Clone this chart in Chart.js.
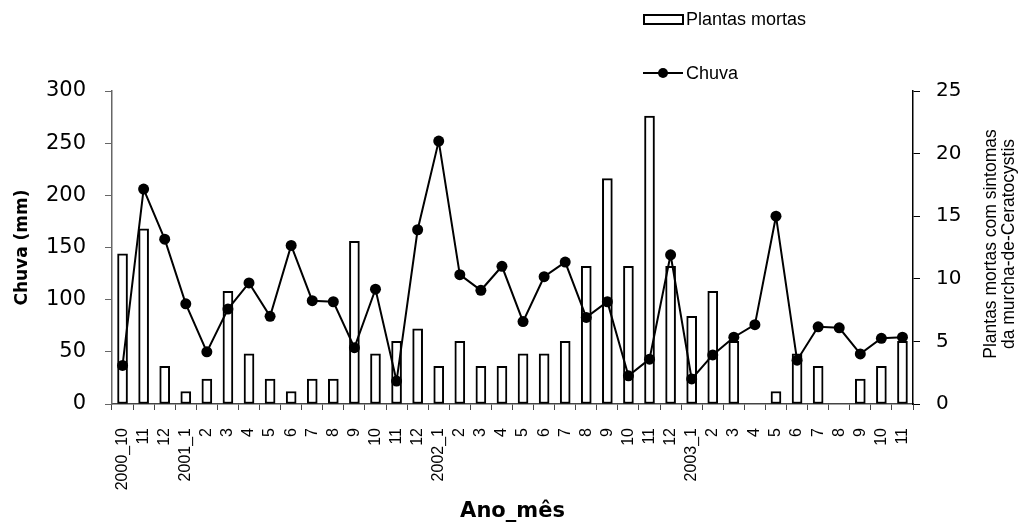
<!DOCTYPE html>
<html>
<head>
<meta charset="utf-8">
<script src="https://cdn.jsdelivr.net/npm/chart.js@4"></script>
<style>
  html, body { margin: 0; padding: 0; background: #fff; }
  #c { display: block; }
</style>
</head>
<body>
<canvas id="c" width="1023" height="527"></canvas>
<script>
const categories = ['2000_10','11','12','2001_1','2','3','4','5','6','7','8','9','10','11','12',
  '2002_1','2','3','4','5','6','7','8','9','10','11','12',
  '2003_1','2','3','4','5','6','7','8','9','10','11'];
const plantasMortas = [12,14,3,1,2,9,4,2,1,2,2,13,4,5,6,3,5,3,3,4,4,5,11,18,11,23,11,7,9,5,0,1,4,3,0,2,3,5];
const chuva = [37,206,158,96,50,91,116,84,152,99,98,54,110,22,167,252,124,109,132,79,122,136,83,98,27,43,143,24,47,64,76,180,42,74,73,48,63,64];
const seriesLabels = ['Plantas mortas', 'Chuva'];
const xTitle = 'Ano_mês';
const leftTitle = 'Chuva (mm)';
const rightTitleLines = ['Plantas mortas com sintomas', 'da murcha-de-Ceratocystis'];

const FONT = "'DejaVu Sans', sans-serif";
const ARIAL = "'Liberation Sans', Arial, sans-serif";
Chart.defaults.font.family = FONT;
Chart.defaults.color = '#000';

const extras = {
  id: 'extras',
  afterDraw(chart) {
    const ctx = chart.ctx;
    const ds = chart.data.datasets;
    const barDs = ds.find(d => d.type === 'bar');
    const lineDs = ds.find(d => d.type === 'line');
    ctx.save();
    // legend item 1: bar
    ctx.fillStyle = '#fff';
    ctx.strokeStyle = '#000';
    ctx.lineWidth = 2;
    ctx.fillRect(644, 15, 39, 9);
    ctx.strokeRect(644, 15, 39, 9);
    ctx.fillStyle = '#000';
    ctx.font = '18px ' + ARIAL;
    ctx.textAlign = 'left';
    ctx.textBaseline = 'middle';
    ctx.fillText(barDs.label, 686, 20);
    // legend item 2: line with marker
    ctx.beginPath();
    ctx.moveTo(643, 73);
    ctx.lineTo(683, 73);
    ctx.lineWidth = 2;
    ctx.stroke();
    ctx.beginPath();
    ctx.arc(663, 73, 5, 0, Math.PI * 2);
    ctx.fill();
    ctx.fillText(lineDs.label, 686, 74);
    // right axis title (two lines, reading bottom to top)
    ctx.font = '17.5px ' + ARIAL;
    ctx.textAlign = 'center';
    ctx.textBaseline = 'middle';
    const cy = 244;
    const xs = [991, 1009];
    rightTitleLines.forEach((t, i) => {
      ctx.save();
      ctx.translate(xs[i], cy);
      ctx.rotate(-Math.PI / 2);
      ctx.fillText(t, 0, 0);
      ctx.restore();
    });
    ctx.restore();
  }
};

new Chart(document.getElementById('c'), {
  type: 'bar',
  data: {
    labels: categories,
    datasets: [
      {
        type: 'line',
        label: seriesLabels[1],
        data: chuva,
        yAxisID: 'y',
        borderColor: '#000',
        backgroundColor: '#000',
        borderWidth: 2,
        pointRadius: 5.5,
        pointBackgroundColor: '#000',
        pointBorderColor: '#000',
        pointBorderWidth: 0,
        tension: 0,
        order: 1
      },
      {
        type: 'bar',
        label: seriesLabels[0],
        data: plantasMortas,
        yAxisID: 'y1',
        backgroundColor: '#fff',
        borderColor: '#000',
        borderWidth: 2,
        borderSkipped: false,
        barThickness: 10,
        order: 2
      }
    ]
  },
  options: {
    responsive: false,
    animation: false,
    devicePixelRatio: 1,
    layout: { padding: { top: 91, left: 0, right: 0, bottom: 0 } },
    plugins: {
      legend: { display: false },
      tooltip: { enabled: false }
    },
    scales: {
      x: {
        type: 'category',
        offset: true,
        grid: { drawOnChartArea: false, drawTicks: true, tickLength: 6, color: '#444', offset: true, lineWidth: 1 },
        border: { display: true, color: '#444', width: 1.5 },
        ticks: { autoSkip: false, minRotation: 90, maxRotation: 90, font: { size: 16, family: ARIAL }, padding: 18, color: '#000' },
        title: { display: true, text: xTitle, font: { size: 21, weight: 'bold' }, padding: { top: 0, bottom: 3 }, color: '#000' },
        afterFit(s) { s.height = 123; }
      },
      y: {
        position: 'left',
        min: 0, max: 300,
        grid: { drawOnChartArea: false, drawTicks: true, tickLength: 7, color: '#666' },
        border: { display: true, color: '#666', width: 1.5 },
        ticks: { stepSize: 50, font: { size: 21 }, padding: 19, color: '#000' },
        title: { display: true, text: leftTitle, font: { size: 17, weight: 'bold' }, padding: { top: 12, bottom: 0 }, color: '#000' },
        afterFit(s) { s.width = 112; }
      },
      y1: {
        position: 'right',
        min: 0, max: 25,
        grid: { drawOnChartArea: false, drawTicks: true, tickLength: 7, color: '#000' },
        border: { display: true, color: '#000', width: 1.5 },
        ticks: { stepSize: 5, font: { size: 20 }, padding: 16, color: '#000' },
        afterFit(s) { s.width = 110; }
      }
    }
  },
  plugins: [extras]
});
</script>
</body>
</html>
